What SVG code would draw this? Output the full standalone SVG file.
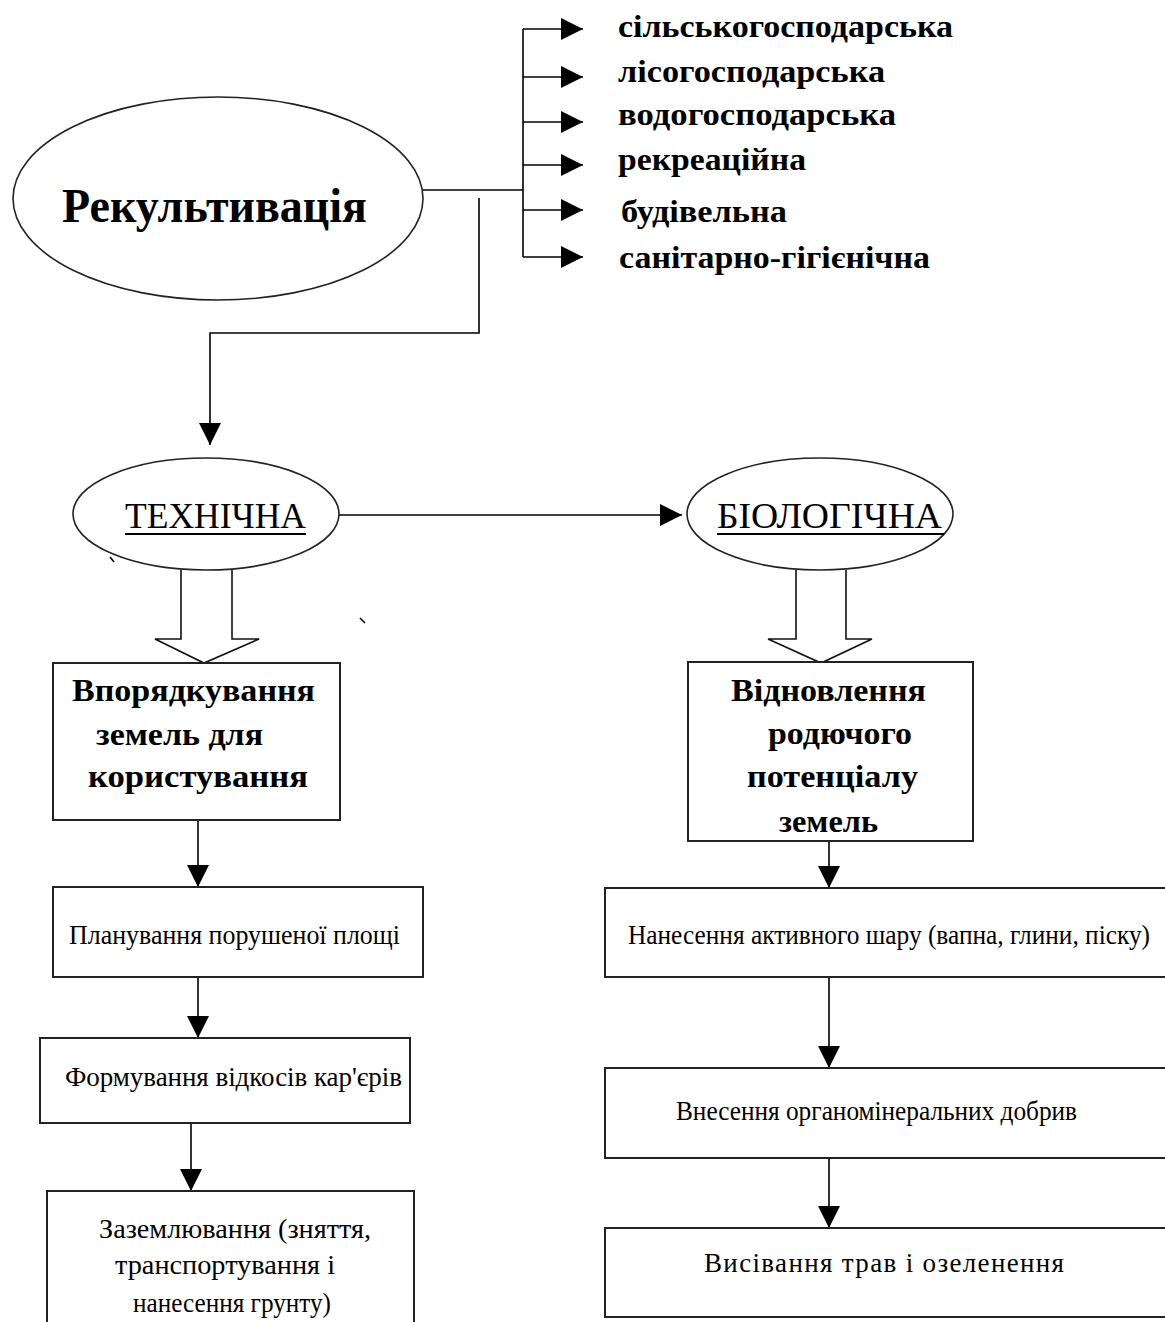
<svg xmlns="http://www.w3.org/2000/svg" width="1165" height="1322" viewBox="0 0 1165 1322">
<style>
.ln{stroke:#000;stroke-width:1.6;fill:none}
.box{fill:#fff;stroke:#222;stroke-width:2}
.ell{fill:#fff;stroke:#222;stroke-width:1.6}
.blk{fill:#fff;stroke:#111;stroke-width:1.6}
text{font-family:"Liberation Serif","Times New Roman",serif;fill:#000}
.h{font-size:48px;font-weight:bold}
.br{font-size:32px;font-weight:bold}
.el{font-size:35px}
.bt{font-size:32px;font-weight:bold}
.t{font-size:27px}
</style>
<defs>
<marker id="ah" viewBox="0 0 22 22" markerWidth="22" markerHeight="22" refX="22" refY="11" orient="auto" markerUnits="userSpaceOnUse">
<path d="M0,0 L22,11 L0,22 z" fill="#000"/>
</marker>
</defs>
<rect width="1165" height="1322" fill="#fff"/>

<g id="connectors">
<path class="ln" d="M423,190 H523"/>
<path class="ln" d="M523,29 V257"/>
<path class="ln" d="M523,29 H583" marker-end="url(#ah)"/>
<path class="ln" d="M523,77 H583" marker-end="url(#ah)"/>
<path class="ln" d="M523,122 H583" marker-end="url(#ah)"/>
<path class="ln" d="M523,165 H583" marker-end="url(#ah)"/>
<path class="ln" d="M523,210 H583" marker-end="url(#ah)"/>
<path class="ln" d="M523,257 H583" marker-end="url(#ah)"/>
<path class="ln" d="M479,198 V333 H210 V445" marker-end="url(#ah)"/>
<path class="ln" d="M339,515 H682" marker-end="url(#ah)"/>
<path class="ln" d="M198,820 V887" marker-end="url(#ah)"/>
<path class="ln" d="M198,977 V1038" marker-end="url(#ah)"/>
<path class="ln" d="M191,1123 V1191" marker-end="url(#ah)"/>
<path class="ln" d="M829,841 V888" marker-end="url(#ah)"/>
<path class="ln" d="M829,977 V1068" marker-end="url(#ah)"/>
<path class="ln" d="M829,1158 V1228" marker-end="url(#ah)"/>
<path class="blk" d="M181,570 V639 H155 L204,663 L259,639 H232 V570"/>
<path class="blk" d="M796,570 V639 H768 L821,663 L872,639 H846 V570"/>
<path class="ln" d="M110,557 L114,562 M360,618 L365,623" stroke-width="1"/>
</g>

<g id="rekultyvatsiia">
<ellipse class="ell" cx="218" cy="198.5" rx="205" ry="101.5"/>
<text class="h" x="62" y="222" textLength="305" lengthAdjust="spacingAndGlyphs">Рекультивація</text>
</g>

<g id="types">
<text class="br" x="618" y="37" textLength="335" lengthAdjust="spacingAndGlyphs">сільськогосподарська</text>
<text class="br" x="618" y="82" textLength="267" lengthAdjust="spacingAndGlyphs">лісогосподарська</text>
<text class="br" x="618" y="125" textLength="278" lengthAdjust="spacingAndGlyphs">водогосподарська</text>
<text class="br" x="618" y="170" textLength="188" lengthAdjust="spacingAndGlyphs">рекреаційна</text>
<text class="br" x="621" y="222" textLength="166" lengthAdjust="spacingAndGlyphs">будівельна</text>
<text class="br" x="619" y="268" textLength="311" lengthAdjust="spacingAndGlyphs">санітарно-гігієнічна</text>
</g>

<g id="tekhnichna">
<ellipse class="ell" cx="206" cy="514" rx="133" ry="56"/>
<text class="el" x="125" y="528" textLength="181" lengthAdjust="spacingAndGlyphs">ТЕХНІЧНА</text>
<path d="M125,534 H306" stroke="#000" stroke-width="2"/>
</g>

<g id="biolohichna">
<ellipse class="ell" cx="820" cy="514" rx="133" ry="56"/>
<text class="el" x="717" y="528" textLength="225" lengthAdjust="spacingAndGlyphs">БІОЛОГІЧНА</text>
<path d="M717,534 H944" stroke="#000" stroke-width="2"/>
</g>

<g id="l1">
<rect class="box" x="53" y="663" width="287" height="157"/>
<text class="bt" x="72" y="701" textLength="243" lengthAdjust="spacingAndGlyphs">Впорядкування</text>
<text class="bt" x="96" y="745" textLength="167" lengthAdjust="spacingAndGlyphs">земель для</text>
<text class="bt" x="88" y="787" textLength="220" lengthAdjust="spacingAndGlyphs">користування</text>
</g>

<g id="l2">
<rect class="box" x="53" y="887" width="370" height="90"/>
<text class="t" x="69" y="944" textLength="331" lengthAdjust="spacingAndGlyphs">Планування порушеної площі</text>
</g>

<g id="l3">
<rect class="box" x="40" y="1038" width="370" height="85"/>
<text class="t" x="65" y="1086" textLength="337">Формування відкосів кар'єрів</text>
</g>

<g id="l4">
<rect class="box" x="47" y="1191" width="367" height="150"/>
<text class="t" x="99" y="1238" textLength="272" lengthAdjust="spacingAndGlyphs">Заземлювання (зняття,</text>
<text class="t" x="115" y="1274" textLength="220" lengthAdjust="spacingAndGlyphs">транспортування і</text>
<text class="t" x="133" y="1312" textLength="198" lengthAdjust="spacingAndGlyphs">нанесення грунту)</text>
</g>

<g id="r1">
<rect class="box" x="688" y="662" width="285" height="179"/>
<text class="bt" x="731" y="701" textLength="195" lengthAdjust="spacingAndGlyphs">Відновлення</text>
<text class="bt" x="768" y="744" textLength="144" lengthAdjust="spacingAndGlyphs">родючого</text>
<text class="bt" x="747" y="787" textLength="171" lengthAdjust="spacingAndGlyphs">потенціалу</text>
<text class="bt" x="779" y="832" textLength="99" lengthAdjust="spacingAndGlyphs">земель</text>
</g>

<g id="r2">
<rect class="box" x="605" y="888" width="580" height="89"/>
<text class="t" x="628" y="944" textLength="522" lengthAdjust="spacingAndGlyphs">Нанесення активного шару (вапна, глини, піску)</text>
</g>

<g id="r3">
<rect class="box" x="605" y="1068" width="580" height="90"/>
<text class="t" x="676" y="1120" textLength="401" lengthAdjust="spacingAndGlyphs">Внесення органомінеральних добрив</text>
</g>

<g id="r4">
<rect class="box" x="605" y="1228" width="580" height="89"/>
<text class="t" x="704" y="1272" textLength="360">Висівання трав і озеленення</text>
</g>
</svg>
